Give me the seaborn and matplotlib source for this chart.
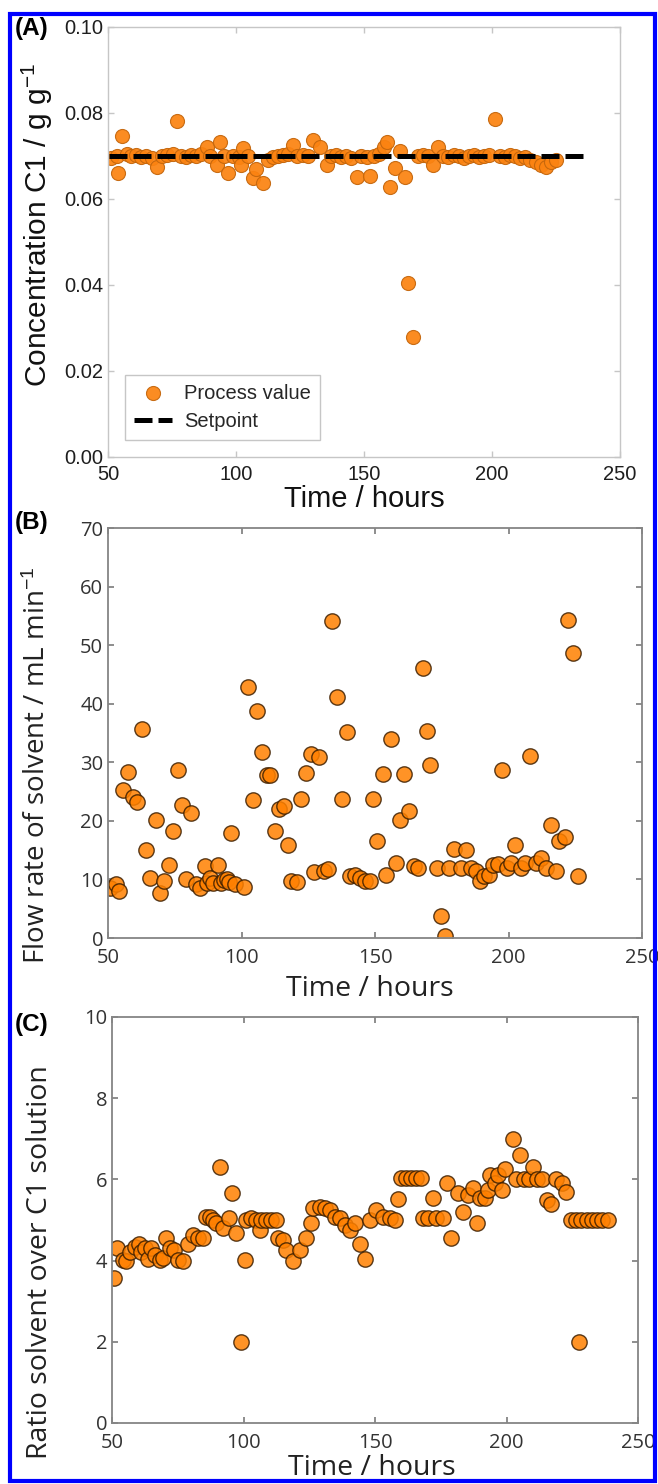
import matplotlib
matplotlib.use("Agg")
import matplotlib.pyplot as plt
import seaborn as sns
import numpy as np
from matplotlib.patches import Rectangle

# ---------------- data ----------------
conc_time = [51.0, 53.5, 54.0, 55.3, 57.3, 59.0, 61.0, 63.0, 65.0, 67.0, 69.0, 71.0, 73.0,
             75.4, 76.8, 78.5, 80.5, 82.5, 84.5, 86.5, 88.5, 90.0, 92.4, 93.7, 95.5, 97.0,
             99.0, 101.0, 102.0, 102.9, 104.5, 106.8, 108.0, 110.7, 112.5, 114.5, 116.5,
             118.5, 120.5, 122.3, 124.0, 126.0, 128.0, 130.2, 132.8, 135.4, 137.0, 139.0,
             141.0, 143.0, 145.0, 147.1, 149.0, 151.0, 152.3, 154.0, 156.0, 158.0, 158.8,
             160.2, 162.1, 164.0, 166.0, 167.2, 169.2, 171.0, 173.0, 175.0, 177.0, 179.0,
             181.0, 183.0, 185.0, 187.0, 189.0, 191.0, 193.0, 195.0, 197.0, 199.0, 201.2,
             203.0, 205.0, 207.0, 209.0, 211.0, 213.0, 215.0, 217.0, 219.0, 221.0, 223.0, 225.0]
conc_value = [0.0695, 0.0700, 0.0660, 0.0747, 0.0705, 0.0700, 0.0702, 0.0698, 0.0700, 0.0695,
              0.0675, 0.0700, 0.0702, 0.0705, 0.0782, 0.0700, 0.0698, 0.0702, 0.0700, 0.0705,
              0.0722, 0.0700, 0.0680, 0.0733, 0.0700, 0.0660, 0.0700, 0.0698, 0.0680, 0.0718,
              0.0700, 0.0648, 0.0670, 0.0637, 0.0690, 0.0698, 0.0700, 0.0702, 0.0705, 0.0726,
              0.0700, 0.0702, 0.0700, 0.0737, 0.0720, 0.0679, 0.0700, 0.0702, 0.0698, 0.0700,
              0.0695, 0.0652, 0.0700, 0.0698, 0.0653, 0.0700, 0.0705, 0.0720, 0.0733, 0.0627,
              0.0671, 0.0712, 0.0652, 0.0405, 0.0278, 0.0700, 0.0702, 0.0700, 0.0679, 0.0720,
              0.0700, 0.0698, 0.0702, 0.0700, 0.0695, 0.0700, 0.0702, 0.0698, 0.0700, 0.0703,
              0.0785, 0.0700, 0.0698, 0.0702, 0.0700, 0.0695, 0.0698, 0.0690, 0.0685, 0.0680,
              0.0675, 0.0685, 0.0690]
setpoint_time = [50.5, 236.7]
setpoint_value = [0.07, 0.07]

flow_time = [50.7, 52.9, 54.3, 55.7, 57.6, 59.3, 60.7, 62.9, 64.3, 65.7, 67.9, 69.3, 71.0,
             72.9, 74.3, 76.2, 77.9, 79.3, 81.1, 82.9, 84.4, 86.2, 87.2, 88.3, 89.4, 91.1,
             92.2, 93.3, 94.4, 95.3, 96.1, 97.7, 100.8, 102.3, 104.4, 105.8, 107.7, 109.4,
             110.8, 112.6, 114.0, 115.9, 117.6, 118.7, 120.6, 122.3, 124.2, 125.9, 127.3,
             129.2, 130.9, 132.3, 134.0, 135.9, 137.6, 139.5, 140.6, 142.6, 144.5, 146.3,
             148.1, 149.2, 150.9, 153.1, 154.2, 155.9, 157.8, 159.2, 160.9, 162.7, 164.5,
             166.0, 167.8, 169.3, 170.7, 173.1, 174.6, 176.4, 177.8, 179.6, 182.1, 184.1,
             186.0, 187.9, 189.3, 191.0, 192.7, 194.3, 196.0, 197.5, 199.3, 201.0, 202.5,
             204.6, 206.0, 208.2, 210.3, 212.2, 213.9, 216.1, 217.9, 218.9, 221.1, 222.2,
             224.2, 226.1]
flow_value = [8.6, 9.2, 8.0, 25.3, 28.4, 24.1, 23.3, 35.7, 15.1, 10.3, 20.2, 7.7, 9.7,
              12.4, 18.2, 28.6, 22.7, 10.0, 21.3, 9.2, 8.6, 12.3, 9.4, 10.3, 9.4, 12.4,
              9.4, 9.9, 10.0, 9.5, 17.9, 9.2, 8.7, 42.9, 23.6, 38.7, 31.8, 27.8,
              27.8, 18.2, 22.1, 22.5, 15.9, 9.8, 9.5, 23.7, 28.1, 31.5, 11.2,
              30.9, 11.4, 11.8, 54.2, 41.1, 23.8, 35.1, 10.6, 10.8, 10.3, 9.7,
              9.7, 23.8, 16.5, 28.0, 10.8, 34.0, 12.8, 20.2, 28.0, 21.6, 12.3,
              12.0, 46.1, 35.4, 29.5, 12.0, 3.7, 0.3, 12.0, 15.2, 12.0, 15.0,
              12.0, 11.4, 9.7, 10.6, 10.8, 12.5, 12.7, 28.6, 12.0, 12.8, 15.8,
              12.0, 12.8, 31.0, 12.8, 13.7, 12.0, 19.3, 11.4, 16.5, 17.3, 54.3,
              48.7, 10.6]

ratio_time = [50.8, 52.0, 54.2, 55.5, 56.7, 58.6, 60.3, 61.2, 62.4, 63.7, 65.0, 66.2, 68.1,
              69.4, 70.7, 71.9, 73.6, 75.1, 77.0, 78.9, 80.8, 82.7, 84.6, 85.6, 87.1, 88.4,
              89.7, 91.0, 92.2, 94.5, 95.8, 97.3, 99.2, 100.7, 101.1, 103.0, 104.9, 106.2,
              106.8, 108.7, 110.6, 112.5, 113.1, 115.0, 116.3, 118.8, 121.3, 123.9, 125.8,
              126.4, 129.0, 130.9, 132.8, 134.7, 136.6, 138.5, 140.4, 142.3, 144.2, 146.1,
              148.0, 150.5, 153.1, 155.6, 157.5, 158.7, 160.0, 161.9, 163.8, 165.7, 167.6,
              168.2, 170.1, 172.0, 173.3, 175.8, 177.2, 179.0, 181.6, 183.5, 185.4, 187.3,
              188.6, 189.9, 191.8, 193.1, 193.7, 195.6, 196.9, 198.1, 199.4, 202.3, 203.5,
              205.0, 206.5, 208.5, 210.0, 211.5, 213.5, 215.5, 217.0, 219.0, 221.0, 222.5,
              224.5, 226.5, 227.5, 228.5, 230.5, 232.5, 234.5, 236.5, 238.5]
ratio_value = [3.58, 4.32, 4.02, 3.98, 4.22, 4.34, 4.42, 4.22, 4.30, 4.05, 4.30, 4.14, 4.02,
               4.06, 4.55, 4.30, 4.26, 4.02, 3.98, 4.42, 4.63, 4.55, 4.55, 5.08, 5.08, 5.00,
               4.92, 6.30, 4.80, 5.04, 5.66, 4.67, 2.00, 4.02, 5.00, 5.04, 5.00, 4.75,
               5.00, 5.00, 5.00, 5.00, 4.55, 4.50, 4.26, 3.98, 4.26, 4.55, 4.92,
               5.29, 5.33, 5.29, 5.25, 5.08, 5.04, 4.88, 4.75, 4.92, 4.42, 4.05,
               5.00, 5.25, 5.08, 5.04, 5.00, 5.51, 6.03, 6.03, 6.03, 6.03, 6.03,
               5.04, 5.04, 5.54, 5.04, 5.04, 5.90, 4.55, 5.66, 5.20, 5.62, 5.78,
               4.92, 5.54, 5.54, 5.74, 6.10, 5.90, 6.10, 5.74, 6.25, 7.00, 6.00,
               6.60, 6.00, 6.00, 6.30, 6.00, 6.00, 5.50, 5.40, 6.00, 5.90, 5.70,
               5.00, 5.00, 2.00, 5.00, 5.00, 5.00, 5.00, 5.00, 5.00]

x_ticks = [50, 100, 150, 200, 250]
conc_ticks = [0.00, 0.02, 0.04, 0.06, 0.08, 0.10]
flow_ticks = [0, 10, 20, 30, 40, 50, 60, 70]
ratio_ticks = [0, 2, 4, 6, 8, 10]

# ---------------- figure ----------------
W, H = 658, 1484
sns.set_style("white")
plt.rcParams['font.family'] = ['Liberation Sans', 'DejaVu Sans']
plt.rcParams['mathtext.fontset'] = 'custom'
plt.rcParams['mathtext.rm'] = 'Liberation Sans'
plt.rcParams['mathtext.it'] = 'Liberation Sans'

fig = plt.figure(figsize=(W / 100, H / 100), dpi=100)


def axes_px(l, r, t, b):
    return fig.add_axes([l / W, 1 - b / H, (r - l) / W, (b - t) / H])


def fx(px):
    return px / W


def fy(py):
    return 1 - py / H


def style(ax, spine_color, label_color, family, size, xpad, ypad, lw):
    for s in ax.spines.values():
        s.set_visible(True)
        s.set_color(spine_color)
        s.set_linewidth(lw)
    ax.tick_params(axis='both', direction='in', length=4, width=lw, color=spine_color,
                   top=True, right=True, bottom=True, left=True,
                   labelsize=size, labelcolor=label_color)
    ax.tick_params(axis='x', pad=xpad)
    ax.tick_params(axis='y', pad=ypad)
    for lbl in ax.get_xticklabels() + ax.get_yticklabels():
        lbl.set_family(family)
    ax.set_xlabel('')
    ax.set_ylabel('')


orange = '#fb8311'

# ---- panel A ----
axA = axes_px(108, 620, 27, 457)
sns.scatterplot(x=conc_time, y=conc_value, ax=axA, s=102, color=orange,
                edgecolor='#c4660c', linewidth=0.8, alpha=0.93, label='Process value', zorder=2)
sns.lineplot(x=setpoint_time, y=setpoint_value, ax=axA, color='black', linewidth=3.6,
             linestyle=(0, (3.6, 1.2)), label='Setpoint', zorder=3)
axA.set_xlim(50, 250)
axA.set_ylim(0, 0.10)
axA.set_xticks(x_ticks)
axA.set_yticks(conc_ticks)
axA.set_yticklabels([f'{v:.2f}' for v in conc_ticks])
style(axA, '#c6c6c6', '#1e1e1e', ['Liberation Sans'], 14.5, 6, 3.5, 1.0)
leg = axA.legend(loc='lower left', bbox_to_anchor=(0.033, 0.04), borderaxespad=0,
                 frameon=True, fancybox=False, framealpha=1, edgecolor='#c6c6c6',
                 fontsize=14.5, handlelength=1.9, handletextpad=0.6, borderpad=0.45,
                 labelspacing=0.45, markerscale=1.0)
leg.get_frame().set_linewidth(1.0)

fig.text(fx(364), fy(499), 'Time / hours', ha='center', va='center', fontsize=21,
         family=['Liberation Sans'], color='#111111')
fig.text(fx(37), fy(225), 'Concentration C1 / g g$^{-1}$', rotation=90, ha='center',
         va='center', fontsize=21.5, family=['Liberation Sans'], color='#111111')
fig.text(fx(15), fy(29), '(A)', ha='left', va='center', fontsize=17.5, fontweight='bold',
         family=['Liberation Sans'], color='black')

# ---- panel B ----
bc_font = ['Open Sans', 'DejaVu Sans']
axB = axes_px(108, 642, 528, 938)
sns.scatterplot(x=flow_time, y=flow_value, ax=axB, s=122, color='#ff8000',
                edgecolor='#3c1e00', linewidth=1.0, alpha=0.85, zorder=2)
axB.set_xlim(50, 250)
axB.set_ylim(0, 70)
axB.set_xticks(x_ticks)
axB.set_yticks(flow_ticks)
style(axB, '#858585', '#333333', bc_font, 14.5, 7.5, 3.5, 1.3)
fig.text(fx(370), fy(989), 'Time / hours', ha='center', va='center', fontsize=20.5,
         family=bc_font, color='#222222')
fig.text(fx(38), fy(765), 'Flow rate of solvent / mL min$^{-1}$', rotation=90, ha='center',
         va='center', fontsize=20, family=bc_font, color='#222222')
fig.text(fx(15), fy(523), '(B)', ha='left', va='center', fontsize=17.5, fontweight='bold',
         family=['Liberation Sans'], color='black')

# ---- panel C ----
axC = axes_px(112, 638, 1017, 1423)
sns.scatterplot(x=ratio_time, y=ratio_value, ax=axC, s=122, color='#ff8000',
                edgecolor='#3c1e00', linewidth=1.0, alpha=0.85, zorder=2)
axC.set_xlim(50, 250)
axC.set_ylim(0, 10)
axC.set_xticks(x_ticks)
axC.set_yticks(ratio_ticks)
style(axC, '#858585', '#333333', bc_font, 14.5, 7, 3.5, 1.3)
fig.text(fx(372), fy(1468), 'Time / hours', ha='center', va='center', fontsize=20.5,
         family=bc_font, color='#222222')
fig.text(fx(40), fy(1262), 'Ratio solvent over C1 solution', rotation=90, ha='center',
         va='center', fontsize=20.5, family=bc_font, color='#222222')
fig.text(fx(15), fy(1025), '(C)', ha='left', va='center', fontsize=17.5, fontweight='bold',
         family=['Liberation Sans'], color='black')

# blue frame around the figure
fig.patches.append(Rectangle((fx(10), fy(1481)), (655 - 10) / W, (1481 - 14) / H,
                             transform=fig.transFigure, fill=False, edgecolor='#0000ff',
                             linewidth=3.0, zorder=10))

fig.savefig('out.png', dpi=100)
